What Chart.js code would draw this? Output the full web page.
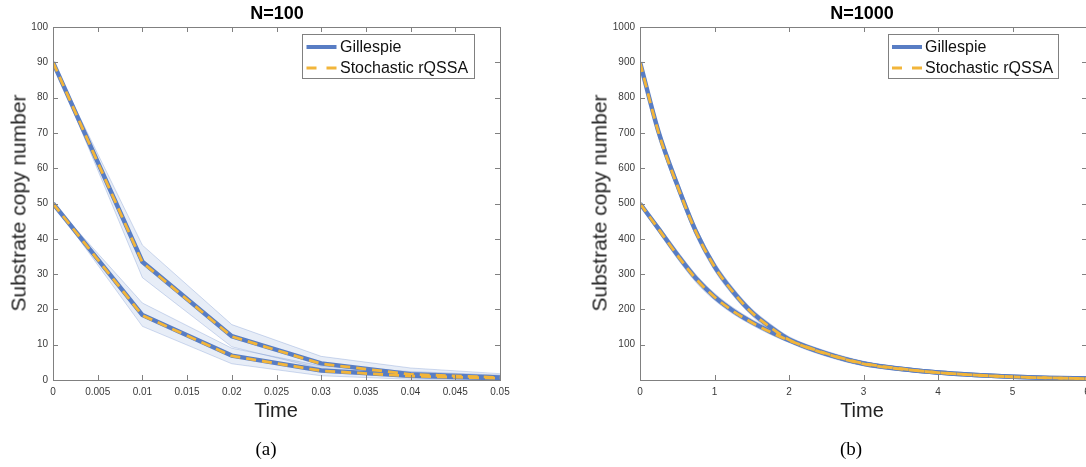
<!DOCTYPE html>
<html lang="en">
<head>
<meta charset="UTF-8">
<title>Substrate copy number - Gillespie vs stochastic rQSSA</title>
<script src="https://cdn.jsdelivr.net/npm/chart.js"></script>
<style>
  html, body { margin: 0; padding: 0; background: #fff; }
  body { position: relative; width: 1086px; height: 467px; overflow: hidden; font-family: "Liberation Sans", Arial, Helvetica, sans-serif; }
  .panel { position: absolute; top: 0; width: 540px; height: 467px; }
  .txt { position: absolute; white-space: nowrap; color: #000; }
  .title { font-weight: bold; font-size: 18px; line-height: 18px; transform: translateX(-50%); }
  .xlab { font-size: 20px; line-height: 20px; color: #222; transform: translateX(-50%); }
  .ylab { font-size: 21px; line-height: 21px; color: #222; transform: translate(-50%, -50%) rotate(-90deg); }
  .cap { font-family: "Liberation Serif", "Times New Roman", serif; font-size: 19px; line-height: 20px; transform: translateX(-50%); }
</style>
</head>
<body>

<div class="panel" style="left:0"><canvas id="chartA" width="540" height="467"></canvas></div>
<div class="panel" style="left:560px"><canvas id="chartB" width="540" height="467"></canvas></div>

<!-- textes -->
<div class="txt title" style="left:277px; top:4px">N=100</div>
<div class="txt title" style="left:862px; top:4px">N=1000</div>
<div class="txt ylab" style="left:18px; top:203px">Substrate copy number</div>
<div class="txt ylab" style="left:599px; top:203px">Substrate copy number</div>
<div class="txt xlab" style="left:276px; top:400px">Time</div>
<div class="txt xlab" style="left:862px; top:400px">Time</div>
<div class="txt cap" style="left:266px; top:439px">(a)</div>
<div class="txt cap" style="left:851px; top:439px">(b)</div>

<script>
// ---- (a) N=100 ----
const timeA = [0, 0.01, 0.02, 0.03, 0.04, 0.05];
const gilHiA = [90, 33.5, 12.4, 4.7, 1.6, 0.7];
const gilLoA = [50, 18.4, 6.9, 2.7, 1.2, 0.5];
const rqHiA = [90, 33.3, 12.3, 4.6, 1.6, 0.7];
const rqLoA = [50, 18.3, 6.8, 2.6, 1.1, 0.5];
const bandHiUpA = [90, 38.2, 15.7, 6.7, 3.4, 1.8];
const bandHiLowA = [90, 29.0, 9.4, 3.2, 0.6, 0.1];
const bandLoUpA = [50, 21.8, 9.0, 4.0, 2.4, 1.4];
const bandLoLowA = [50, 15.2, 4.6, 1.2, 0.2, 0.0];
const xTicksA = [0, 0.005, 0.01, 0.015, 0.02, 0.025, 0.03, 0.035, 0.04, 0.045, 0.05];
const yTicksA = [0, 10, 20, 30, 40, 50, 60, 70, 80, 90, 100];

// ---- (b) N=1000 ----
const timeB = [0, 0.25, 0.5, 0.75, 1, 1.25, 1.5, 1.75, 2, 2.5, 3, 3.5, 4, 4.5, 5, 5.5, 6];
const gilHiB = [900, 702, 553, 421, 322, 250, 192, 150, 115, 74, 46, 31, 21, 14, 9, 6, 4];
const gilLoB = [500, 428, 355, 288, 236, 196, 164, 137, 113, 75, 47, 32, 21, 14, 9, 6, 4];
const rqHiB = [900, 700, 551, 420, 321, 249, 191, 149, 114, 74, 46, 31, 21, 14, 9, 6, 4];
const rqLoB = [500, 427, 354, 287, 235, 195, 163, 136, 112, 75, 47, 32, 21, 14, 9, 6, 4];
const bandHiUpB = [900, 714, 566, 434, 334, 261, 202, 159, 123, 81, 52, 36, 25, 17, 11, 8, 5];
const bandHiLowB = [900, 690, 540, 408, 310, 239, 182, 141, 107, 67, 40, 26, 17, 11, 7, 4, 3];
const bandLoUpB = [500, 437, 366, 299, 246, 205, 172, 145, 120, 82, 53, 37, 25, 17, 11, 8, 5];
const bandLoLowB = [500, 419, 344, 277, 226, 187, 156, 129, 106, 68, 41, 27, 17, 11, 7, 4, 3];
const xTicksB = [0, 1, 2, 3, 4, 5, 6];
const yTicksB = [100, 200, 300, 400, 500, 600, 700, 800, 900, 1000];

const legendLabels = ['Gillespie', 'Stochastic rQSSA'];

const BLUE = '#587dc4';
const ORANGE = '#f2b53a';
const BAND = 'rgba(88,125,196,0.14)';
const BAND_EDGE = 'rgba(88,125,196,0.28)';
const AXIS = '#808080';
const FONT = '"Liberation Sans", Arial, Helvetica, sans-serif';

function pts(xs, ys) {
  return xs.map((x, i) => ({ x: x, y: ys[i] }));
}

// boite + graduations vers l'interieur (style MATLAB) + legende
const matlabAxes = {
  id: 'matlabAxes',
  afterDatasetsDraw(chart, args, opts) {
    const ctx = chart.ctx;
    const a = chart.chartArea;
    const xs = chart.scales.x, ys = chart.scales.y;
    const L = 5;
    ctx.save();
    ctx.strokeStyle = AXIS;
    ctx.lineWidth = 1;
    ctx.beginPath();
    xs.ticks.forEach(t => {
      const px = Math.round(xs.getPixelForValue(t.value)) + 0.5;
      ctx.moveTo(px, a.bottom); ctx.lineTo(px, a.bottom - L);
      ctx.moveTo(px, a.top); ctx.lineTo(px, a.top + L);
    });
    ys.ticks.forEach(t => {
      const py = Math.round(ys.getPixelForValue(t.value)) + 0.5;
      ctx.moveTo(a.left, py); ctx.lineTo(a.left + L, py);
      ctx.moveTo(a.right, py); ctx.lineTo(a.right - L, py);
    });
    ctx.stroke();
    ctx.strokeRect(Math.round(a.left) + 0.5, Math.round(a.top) + 0.5,
                   Math.round(a.right - a.left), Math.round(a.bottom - a.top));
    ctx.restore();
  },
  afterDraw(chart, args, opts) {
    const ctx = chart.ctx;
    const b = opts.box;
    ctx.save();
    ctx.fillStyle = '#fff';
    ctx.fillRect(b.x, b.y, b.w, b.h);
    ctx.strokeStyle = AXIS;
    ctx.lineWidth = 1;
    ctx.strokeRect(b.x + 0.5, b.y + 0.5, b.w, b.h);
    const rows = [b.y + 13, b.y + 34];
    // Gillespie
    ctx.strokeStyle = BLUE;
    ctx.lineWidth = 4;
    ctx.beginPath();
    ctx.moveTo(b.x + opts.sx, rows[0]); ctx.lineTo(b.x + opts.sx + 30, rows[0]);
    ctx.stroke();
    // rQSSA
    ctx.strokeStyle = ORANGE;
    ctx.lineWidth = 3;
    ctx.beginPath();
    ctx.moveTo(b.x + opts.sx, rows[1]); ctx.lineTo(b.x + opts.sx + 10, rows[1]);
    ctx.moveTo(b.x + opts.sx + 20, rows[1]); ctx.lineTo(b.x + opts.sx + 30, rows[1]);
    ctx.stroke();
    ctx.fillStyle = '#111';
    ctx.font = '16px ' + FONT;
    ctx.textBaseline = 'middle';
    ctx.textAlign = 'left';
    legendLabels.forEach((lab, i) => ctx.fillText(lab, b.x + opts.tx, rows[i] + 1));
    ctx.restore();
  }
};

function bandSets(xs, up, low) {
  return [
    { data: pts(xs, up), borderColor: BAND_EDGE, borderWidth: 1, backgroundColor: BAND, fill: '+1', order: 3 },
    { data: pts(xs, low), borderColor: BAND_EDGE, borderWidth: 1, backgroundColor: BAND, fill: false, order: 3 }
  ];
}

function makeChart(id, c) {
  const lineOpts = c.smooth ? { cubicInterpolationMode: 'monotone' } : { tension: 0 };
  const datasets = [
    ...bandSets(c.time, c.bandHiUp, c.bandHiLow),
    ...bandSets(c.time, c.bandLoUp, c.bandLoLow),
    { label: legendLabels[0], data: pts(c.time, c.gilHi), borderColor: BLUE, borderWidth: 4.5, fill: false, order: 2 },
    { label: legendLabels[0], data: pts(c.time, c.gilLo), borderColor: BLUE, borderWidth: 4.5, fill: false, order: 2 },
    { label: legendLabels[1], data: pts(c.time, c.rqHi), borderColor: ORANGE, borderWidth: 2.8, borderDash: [10, 6], fill: false, order: 1 },
    { label: legendLabels[1], data: pts(c.time, c.rqLo), borderColor: ORANGE, borderWidth: 2.8, borderDash: [10, 6], fill: false, order: 1 }
  ].map(d => Object.assign({ pointRadius: 0, borderCapStyle: 'butt' }, lineOpts, d));

  const tickFont = { family: FONT, size: 10 };
  return new Chart(document.getElementById(id), {
    type: 'line',
    data: { datasets: datasets },
    options: {
      responsive: false,
      animation: false,
      events: [],
      layout: { padding: c.padding },
      plugins: {
        legend: { display: false },
        tooltip: { enabled: false },
        matlabAxes: { box: c.legendBox, sx: c.legendSx, tx: c.legendTx }
      },
      scales: {
        x: {
          type: 'linear', min: c.xMin, max: c.xMax,
          afterBuildTicks: s => { s.ticks = c.xTicks.map(v => ({ value: v })); },
          afterFit: s => { s.height = 20; },
          ticks: { font: tickFont, color: '#3a3a3a', padding: 6, maxRotation: 0, autoSkip: false, callback: v => String(v) },
          grid: { display: false, drawTicks: false },
          border: { display: false }
        },
        y: {
          type: 'linear', min: c.yMin, max: c.yMax,
          afterBuildTicks: s => { s.ticks = c.yTicks.map(v => ({ value: v })); },
          afterFit: s => { s.width = c.yWidth; },
          ticks: { font: tickFont, color: '#3a3a3a', padding: 5, autoSkip: false, callback: v => String(v) },
          grid: { display: false, drawTicks: false },
          border: { display: false }
        }
      }
    },
    plugins: [matlabAxes]
  });
}

makeChart('chartA', {
  time: timeA, gilHi: gilHiA, gilLo: gilLoA, rqHi: rqHiA, rqLo: rqLoA,
  bandHiUp: bandHiUpA, bandHiLow: bandHiLowA, bandLoUp: bandLoUpA, bandLoLow: bandLoLowA,
  xTicks: xTicksA, yTicks: yTicksA, xMin: 0, xMax: 0.05, yMin: 0, yMax: 100,
  smooth: false, yWidth: 53,
  padding: { left: 0, top: 27, right: 40, bottom: 67 },
  legendBox: { x: 302, y: 34, w: 172, h: 44 }, legendSx: 4.5, legendTx: 38
});

makeChart('chartB', {
  time: timeB, gilHi: gilHiB, gilLo: gilLoB, rqHi: rqHiB, rqLo: rqLoB,
  bandHiUp: bandHiUpB, bandHiLow: bandHiLowB, bandLoUp: bandLoUpB, bandLoLow: bandLoLowB,
  xTicks: xTicksB, yTicks: yTicksB, xMin: 0, xMax: 6, yMin: 0, yMax: 1000,
  smooth: true, yWidth: 80,
  padding: { left: 0, top: 27, right: 13, bottom: 67 },
  legendBox: { x: 328, y: 34, w: 170, h: 44 }, legendSx: 4, legendTx: 37
});
</script>
</body>
</html>
